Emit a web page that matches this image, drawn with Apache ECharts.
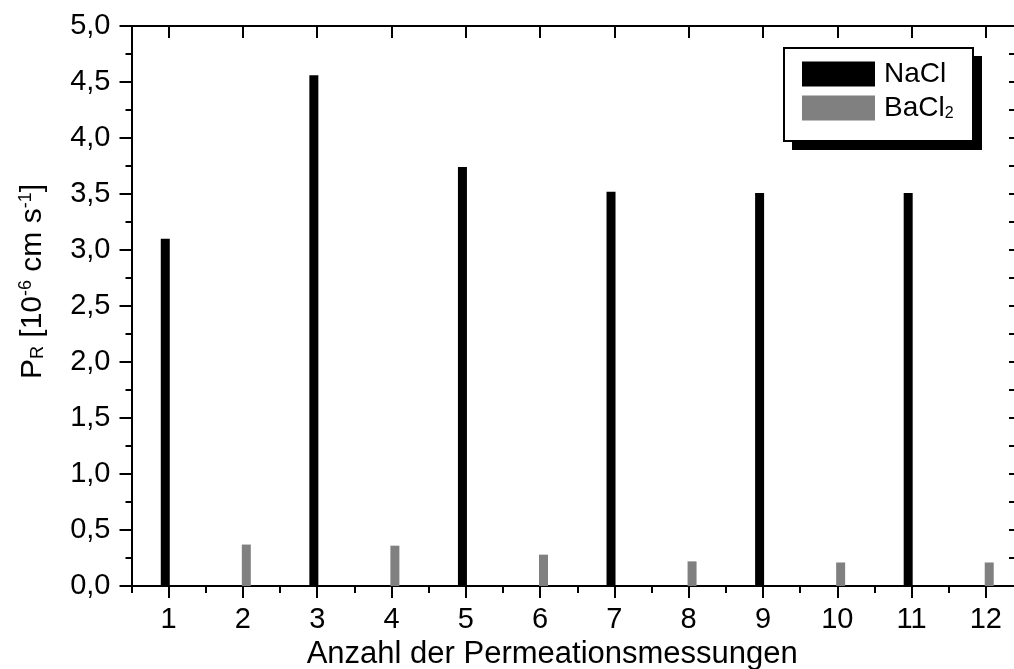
<!DOCTYPE html>
<html>
<head>
<meta charset="utf-8">
<script src="https://cdn.jsdelivr.net/npm/echarts@6/dist/echarts.min.js"></script>
<style>
  html, body { margin: 0; padding: 0; background: #fff; }
  #chart { width: 1014px; height: 669px; }
</style>
</head>
<body>
<div id="chart"></div>
<script>
// Permeation measurements (run number) and permeability P_R in 10^-6 cm/s
const categories = ['1', '2', '3', '4', '5', '6', '7', '8', '9', '10', '11', '12'];
const naclValues = [3.10, null, 4.56, null, 3.74, null, 3.52, null, 3.51, null, 3.51, null];
const bacl2Values = [null, 0.37, null, 0.36, null, 0.28, null, 0.22, null, 0.21, null, 0.21];
const yMin = 0;
const yMax = 5;
const yStep = 0.5;

const FONT = 'Liberation Sans';

const chart = echarts.init(document.getElementById('chart'), null, { renderer: 'canvas' });

const lineStyle = { color: '#000', width: 2 };

// category axes: one carries labels and ticks at the centres, a twin carries
// the half-step ticks at the band boundaries
function catAxis(position, extra) {
  return Object.assign({
    type: 'category',
    data: categories,
    position: position,
    boundaryGap: true,
    axisLine: { show: false },
    axisLabel: { show: false },
    splitLine: { show: false },
    axisTick: { show: true, lineStyle: lineStyle }
  }, extra);
}

function valAxis(position, extra) {
  return Object.assign({
    type: 'value',
    position: position,
    min: yMin,
    max: yMax,
    interval: yStep,
    splitLine: { show: false },
    minorSplitLine: { show: false },
    axisLine: { show: true, onZero: false, lineStyle: lineStyle },
    axisTick: { show: true, length: 12, lineStyle: lineStyle },
    minorTick: { show: true, splitNumber: 2, length: 6, lineStyle: lineStyle },
    axisLabel: { show: false }
  }, extra);
}

// legend frame with a hard drop shadow
const legendBox = { left: 783, top: 47, width: 189, height: 93, shadow: 9 };

const option = {
  animation: false,
  backgroundColor: '#fff',
  textStyle: { fontFamily: FONT },
  grid: {
    left: 131.5,
    top: 26,
    right: -9,
    bottom: 83,
    containLabel: false,
    outerBoundsMode: 'none'
  },
  graphic: [
    {
      type: 'rect',
      z: 20,
      left: legendBox.left + legendBox.shadow,
      top: legendBox.top + legendBox.shadow,
      shape: { width: legendBox.width + 1, height: legendBox.height + 1 },
      style: { fill: '#000' }
    },
    {
      type: 'rect',
      z: 21,
      left: legendBox.left,
      top: legendBox.top,
      shape: { width: legendBox.width, height: legendBox.height },
      style: { fill: '#fff', stroke: '#000', lineWidth: 2 }
    }
  ],
  legend: {
    z: 30,
    orient: 'vertical',
    left: 783,
    top: 47,
    padding: [13, 22, 17, 19],
    itemWidth: 73,
    itemHeight: 25,
    itemGap: 6,
    icon: 'rect',
    data: ['NaCl', 'BaCl2'],
    formatter: function (name) {
      return name === 'BaCl2' ? '{t|BaCl}{s|2}' : '{t|' + name + '}';
    },
    textStyle: {
      fontFamily: FONT,
      color: '#000',
      rich: {
        t: { fontFamily: FONT, fontSize: 28, lineHeight: 28, color: '#000', padding: [0, 0, 0, 4] },
        s: { fontFamily: FONT, fontSize: 16, lineHeight: 16, color: '#000', verticalAlign: 'bottom' }
      }
    }
  },
  xAxis: [
    catAxis('bottom', {
      axisLine: { show: true, onZero: false, lineStyle: lineStyle },
      axisTick: { show: true, alignWithLabel: true, length: 12, lineStyle: lineStyle },
      axisLabel: { show: true, margin: 19, fontFamily: FONT, fontSize: 29, color: '#000' },
      name: 'Anzahl der Permeationsmessungen',
      nameLocation: 'middle',
      nameGap: 52,
      nameTextStyle: { fontFamily: FONT, fontSize: 31, color: '#000', padding: [0, 50, 0, 0] }
    }),
    catAxis('bottom', {
      axisTick: { show: true, alignWithLabel: false, length: 7, lineStyle: lineStyle }
    }),
    catAxis('top', {
      axisLine: { show: true, onZero: false, lineStyle: lineStyle },
      axisTick: { show: true, inside: true, alignWithLabel: true, length: 12, lineStyle: lineStyle }
    }),
    catAxis('top', {
      axisTick: { show: true, inside: true, alignWithLabel: false, length: 7, lineStyle: lineStyle }
    })
  ],
  yAxis: [
    valAxis('left', {
      axisLabel: {
        show: true,
        margin: 21,
        fontFamily: FONT,
        fontSize: 29,
        color: '#000',
        formatter: function (v) { return v.toFixed(1).replace('.', ','); }
      },
      name: '{n|P}{sub|R}{n| [10}{sup|-6}{n| cm s}{sup|-1}{n|]}',
      nameLocation: 'middle',
      nameGap: 84,
      nameTextStyle: {
        fontFamily: FONT,
        fontSize: 30,
        color: '#000',
        padding: [0, 0, 0, 49],
        rich: {
          n: { fontFamily: FONT, fontSize: 30, lineHeight: 30, color: '#000' },
          sup: { fontFamily: FONT, fontSize: 18, lineHeight: 18, color: '#000', verticalAlign: 'top' },
          sub: { fontFamily: FONT, fontSize: 18, lineHeight: 18, color: '#000', verticalAlign: 'bottom' }
        }
      }
    }),
    valAxis('right', {
      axisTick: { show: true, inside: true, length: 14, lineStyle: lineStyle },
      minorTick: { show: true, splitNumber: 2, length: 14, lineStyle: lineStyle }
    })
  ],
  series: [
    {
      name: 'NaCl',
      type: 'bar',
      xAxisIndex: 0,
      yAxisIndex: 0,
      data: naclValues,
      barWidth: 9,
      barGap: '-25%',
      itemStyle: { color: '#000000' }
    },
    {
      name: 'BaCl2',
      type: 'bar',
      xAxisIndex: 0,
      yAxisIndex: 0,
      data: bacl2Values,
      barWidth: 9,
      barGap: '-25%',
      itemStyle: { color: '#808080' }
    }
  ]
};

chart.setOption(option);
</script>
</body>
</html>
